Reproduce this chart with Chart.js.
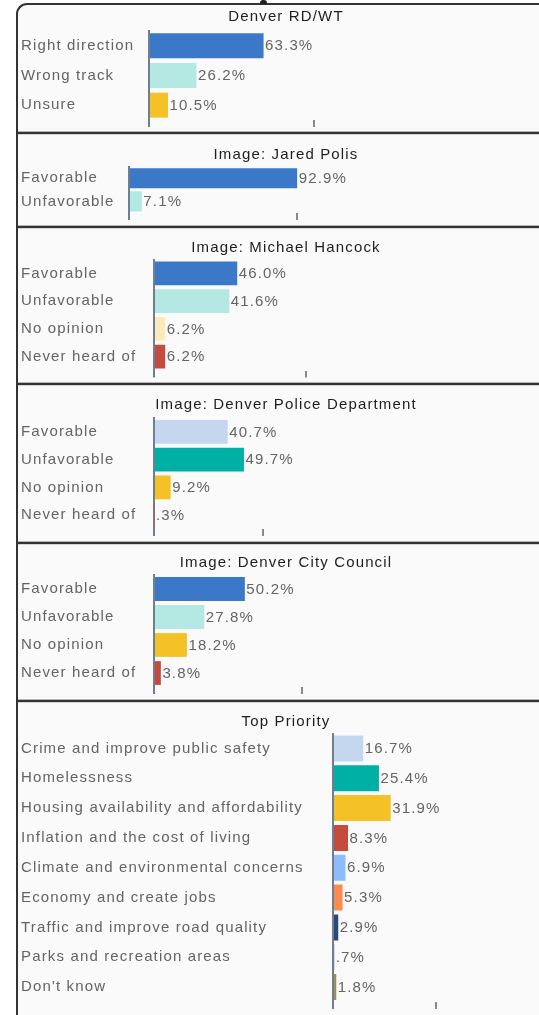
<!DOCTYPE html>
<html>
<head>
<meta charset="utf-8">
<script src="https://cdn.jsdelivr.net/npm/chart.js@4"></script>
<style>
  html,body{margin:0;padding:0;background:#fff;width:539px;height:1015px;overflow:hidden;}
  #frame{position:absolute;left:16px;top:3px;width:700px;height:1100px;border-left:2px solid #333;border-top:2px solid #333;border-top-left-radius:11px;background:#fafafa;}
  #nub{position:absolute;left:260px;top:0;width:7px;height:4px;background:#222;border-radius:3px 3px 0 0;z-index:6;}
  .div{position:absolute;left:18px;width:600px;height:2px;background:#333;box-shadow:0 -1px 0 #b5b5b5,0 1px 0 #d5d5d5;z-index:5;}
  canvas{position:absolute;}
</style>
</head>
<body>
<div id="frame"></div>
<div id="nub"></div>
<div id="wrap"></div>
<script>
// ---- data ----
const panelTitles = ['Denver RD/WT','Image: Jared Polis','Image: Michael Hancock','Image: Denver Police Department','Image: Denver City Council','Top Priority'];
const rdwtLabels = ['Right direction','Wrong track','Unsure'];
const rdwtValues = [63.3, 26.2, 10.5];
const polisLabels = ['Favorable','Unfavorable'];
const polisValues = [92.9, 7.1];
const imageLabels = ['Favorable','Unfavorable','No opinion','Never heard of'];
const hancockValues = [46.0, 41.6, 6.2, 6.2];
const policeValues = [40.7, 49.7, 9.2, 0.3];
const councilValues = [50.2, 27.8, 18.2, 3.8];
const priorityLabels = ['Crime and improve public safety','Homelessness','Housing availability and affordability','Inflation and the cost of living','Climate and environmental concerns','Economy and create jobs','Traffic and improve road quality','Parks and recreation areas',"Don't know"];
const priorityValues = [16.7, 25.4, 31.9, 8.3, 6.9, 5.3, 2.9, 0.7, 1.8];
const tickValues = [91, 93, 84, 60, 82, 57];

// ---- styles / layout ----
const BLUE='#3b78c8', AQUA='#b3e8e3', GOLD='#f4c126', CREAM='#fde9bb', RED='#c64b3f', PALE='#c5d7ef', TEAL='#00b0a4';
const panels = [
  {labels: rdwtLabels, values: rdwtValues, colors:[BLUE,AQUA,GOLD], top:4, h:129, titleC:12.7, chartTop:27, chartBot:116, yW:128, bp:0.84},
  {labels: polisLabels, values: polisValues, colors:[BLUE,AQUA], top:133, h:94, titleC:22, chartTop:33.7, chartBot:80, yW:108, bp:0.87},
  {labels: imageLabels, values: hancockValues, colors:[BLUE,AQUA,CREAM,RED], top:227, h:157, titleC:20.7, chartTop:32.5, chartBot:143.5, yW:133, bp:0.85},
  {labels: imageLabels, values: policeValues, colors:[PALE,TEAL,GOLD,RED], top:384, h:159, titleC:21, chartTop:34, chartBot:145, yW:133, bp:0.86},
  {labels: imageLabels, values: councilValues, colors:[BLUE,AQUA,GOLD,RED], top:543, h:158, titleC:20.3, chartTop:32, chartBot:144, yW:133, bp:0.85},
  {labels: priorityLabels, values: priorityValues, colors:[PALE,TEAL,GOLD,RED,'#8dbdf8','#fb8c51','#2a4878','#8a8f99','#a88a5a'], top:701, h:314, titleC:20.7, chartTop:32.5, chartBot:307, yW:312, bp:0.87},
];
const CANVAS_LEFT = 21, CANVAS_W = 530, PX_PER_PCT = 1.81, TICK_LEN = 7;
const FONT = '"Liberation Sans", Arial, sans-serif';
const SPACING = '1.15px';
const LABEL_COLOR = '#646464', AXIS_COLOR = '#6f7f90', TICK_COLOR = '#8a8a8a';

function fmt(v){ let s = v.toFixed(1); if (s.startsWith('0')) s = s.slice(1); return s + '%'; }

const spacingPlugin = {
  id:'spacing',
  beforeDraw(chart){ chart.ctx.letterSpacing = SPACING; }
};
const valueLabels = {
  id:'valueLabels',
  afterDatasetsDraw(chart){
    const ctx = chart.ctx;
    const meta = chart.getDatasetMeta(0);
    const vals = chart.data.datasets[0].data;
    ctx.save();
    ctx.letterSpacing = SPACING;
    ctx.font = '15px ' + FONT;
    ctx.fillStyle = LABEL_COLOR;
    ctx.textAlign = 'left';
    ctx.textBaseline = 'middle';
    meta.data.forEach((bar, i) => {
      ctx.fillText(fmt(vals[i]), bar.x + 1.5, bar.y + 0.5);
    });
    ctx.restore();
  }
};

const wrap = document.getElementById('wrap');
panels.forEach((p, idx) => {
  const c = document.createElement('canvas');
  c.width = CANVAS_W; c.height = p.h;
  c.style.left = CANVAS_LEFT + 'px'; c.style.top = p.top + 'px';
  c.style.width = CANVAS_W + 'px'; c.style.height = p.h + 'px';
  wrap.appendChild(c);
  if (idx > 0) {
    const d = document.createElement('div');
    d.className = 'div';
    d.style.top = (p.top - 1) + 'px';
    document.body.appendChild(d);
  }
  const tv = tickValues[idx];
  const xMax = (CANVAS_W - p.yW) / PX_PER_PCT;
  new Chart(c, {
    type:'bar',
    data:{ labels: p.labels, datasets:[{ data: p.values, backgroundColor: p.colors, borderWidth:0, barPercentage:p.bp, categoryPercentage:1 }]},
    plugins:[spacingPlugin, valueLabels],
    options:{
      indexAxis:'y', responsive:false, animation:false, devicePixelRatio:1,
      layout:{ padding:{ top:0, left:0, right:0, bottom: p.h - p.chartBot - TICK_LEN } },
      plugins:{
        legend:{display:false}, tooltip:{enabled:false},
        title:{ display:true, text: panelTitles[idx], color:'#1e1e1e',
          font:{ family: FONT, size:15, weight:'normal', lineHeight:1.2 },
          padding:{ top: p.titleC - 9, bottom: p.chartTop - p.titleC - 9 } }
      },
      scales:{
        x:{ min:0, max:xMax,
          afterBuildTicks: s => { s.ticks = [{value:0},{value:tv}]; },
          afterFit: s => { s.height = TICK_LEN; },
          ticks:{ display:false },
          grid:{ display:true, drawOnChartArea:false, drawTicks:true, tickLength:TICK_LEN,
            color: ctx => (ctx.tick && ctx.tick.value === 0) ? AXIS_COLOR : TICK_COLOR, lineWidth:2 },
          border:{ display:false }
        },
        y:{
          afterFit: s => { s.width = p.yW; },
          grid:{ display:false },
          border:{ display:true, color: AXIS_COLOR, width:2 },
          ticks:{ crossAlign:'far', color: LABEL_COLOR, font:{ family: FONT, size:15 }, padding:4 }
        }
      }
    }
  });
});
</script>
</body>
</html>
